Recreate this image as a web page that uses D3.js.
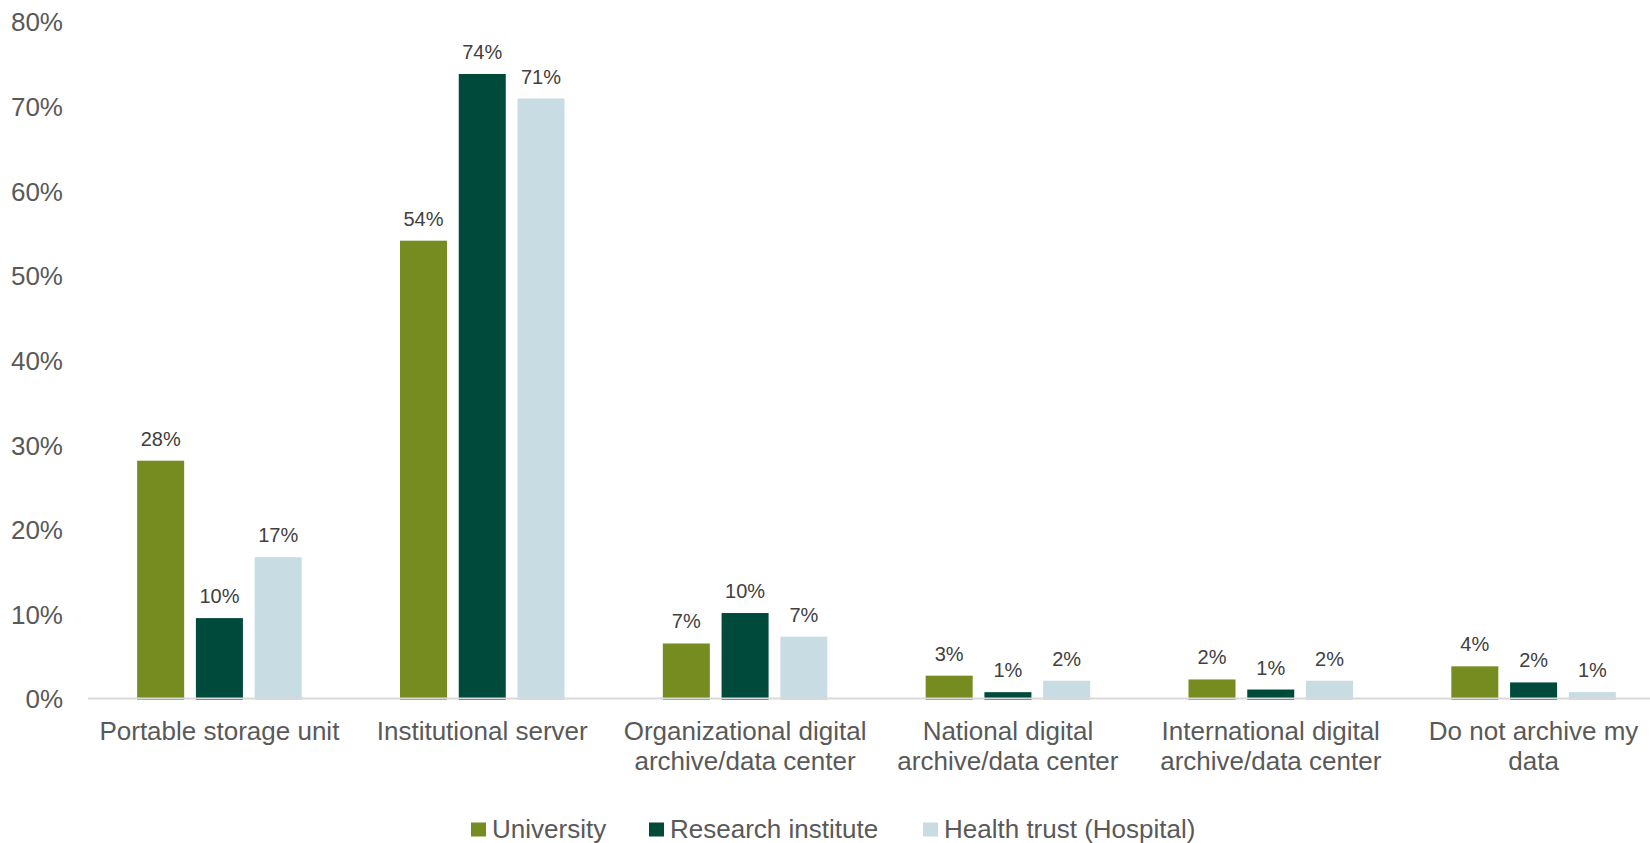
<!DOCTYPE html>
<html>
<head>
<meta charset="utf-8">
<script src="https://cdn.jsdelivr.net/npm/d3@7/dist/d3.min.js"></script>
<style>
  html, body { margin: 0; padding: 0; background: #fff; }
  svg { display: block; font-family: "Liberation Sans", Arial, sans-serif; }
</style>
</head>
<body>
<svg id="chart" width="1650" height="843"></svg>
<script>
// Where researchers archive their data, by type of institution
const categories = [
  "Portable storage unit",
  "Institutional server",
  "Organizational digital archive/data center",
  "National digital archive/data center",
  "International digital archive/data center",
  "Do not archive my data"
];
const seriesNames = ["University", "Research institute", "Health trust (Hospital)"];
const seriesColors = ["#768c20", "#004a3b", "#c8dce4"];

const university        = [0.281, 0.541, 0.065, 0.027, 0.0225, 0.038];
const researchInstitute = [0.095, 0.738, 0.101, 0.0075, 0.0106, 0.019];
const healthTrust       = [0.167, 0.709, 0.073, 0.021, 0.021, 0.0075];
const seriesValues = [university, researchInstitute, healthTrust];

const yTicks = [0, 0.1, 0.2, 0.3, 0.4, 0.5, 0.6, 0.7, 0.8];

const svg = d3.select("#chart");
const pct = d3.format(".0%");

const x0 = d3.scaleBand()
  .domain(categories)
  .range([88, 1665])
  .paddingInner(0.374)
  .paddingOuter(0.187);

const x1 = d3.scaleBand()
  .domain(seriesNames)
  .range([0, x0.bandwidth()])
  .paddingInner(0.2)
  .paddingOuter(0);

const y = d3.scaleLinear()
  .domain([0, 0.8])
  .range([698.5, 21.5]);

// Y axis labels (no axis line, no ticks)
const yAxis = d3.axisLeft(y)
  .tickValues(yTicks)
  .tickFormat(pct)
  .tickSize(0)
  .tickPadding(0);
const yG = svg.append("g")
  .attr("transform", "translate(63,0)")
  .call(yAxis);
yG.select(".domain").remove();
yG.selectAll("text")
  .attr("font-size", 26)
  .attr("font-family", "Liberation Sans, Arial, sans-serif")
  .attr("fill", "#595959")
  .attr("dy", "0.36em");

// Bars
const rows = categories.map((c, i) => ({
  category: c,
  values: seriesNames.map((s, j) => ({ series: s, idx: j, value: seriesValues[j][i] }))
}));

const groups = svg.append("g").selectAll("g")
  .data(rows)
  .join("g")
  .attr("transform", d => `translate(${x0(d.category)},0)`);

groups.selectAll("rect")
  .data(d => d.values)
  .join("rect")
  .attr("x", d => x1(d.series))
  .attr("width", x1.bandwidth())
  .attr("y", d => y(d.value))
  .attr("height", d => y(0) - y(d.value) + 1.5)
  .attr("fill", d => seriesColors[d.idx]);

// Value labels
groups.selectAll("text")
  .data(d => d.values)
  .join("text")
  .attr("x", d => x1(d.series) + x1.bandwidth() / 2)
  .attr("y", d => y(d.value) - 15)
  .attr("text-anchor", "middle")
  .attr("font-size", 20)
  .attr("fill", "#404040")
  .text(d => pct(d.value));

// Baseline
svg.append("line")
  .attr("x1", 88).attr("x2", 1665)
  .attr("y1", y(0)).attr("y2", y(0))
  .attr("stroke", "#d9d9d9")
  .attr("stroke-width", 2);

// Category labels, wrapped to the band step
const xAxisG = svg.append("g");
const maxWidth = 255;
categories.forEach(c => {
  const cx = x0(c) + x0.bandwidth() / 2;
  const t = xAxisG.append("text")
    .attr("x", cx)
    .attr("y", 740)
    .attr("text-anchor", "middle")
    .attr("font-size", 26)
    .attr("fill", "#595959");
  const words = c.split(" ");
  let line = [];
  let lineNo = 0;
  let tspan = t.append("tspan").attr("x", cx).attr("y", 740);
  words.forEach(w => {
    line.push(w);
    tspan.text(line.join(" "));
    if (tspan.node().getComputedTextLength() > maxWidth && line.length > 1) {
      line.pop();
      tspan.text(line.join(" "));
      line = [w];
      lineNo += 1;
      tspan = t.append("tspan").attr("x", cx).attr("y", 740 + lineNo * 30).text(w);
    }
  });
});

// Legend
const legendX = [471, 649, 923];
const legend = svg.append("g");
seriesNames.forEach((s, j) => {
  const g = legend.append("g").attr("transform", `translate(${legendX[j]},0)`);
  g.append("rect")
    .attr("x", 0).attr("y", 822.5)
    .attr("width", 15).attr("height", 14)
    .attr("fill", seriesColors[j]);
  g.append("text")
    .attr("x", 21).attr("y", 837.5)
    .attr("font-size", 26)
    .attr("fill", "#595959")
    .text(s);
});
</script>
</body>
</html>
